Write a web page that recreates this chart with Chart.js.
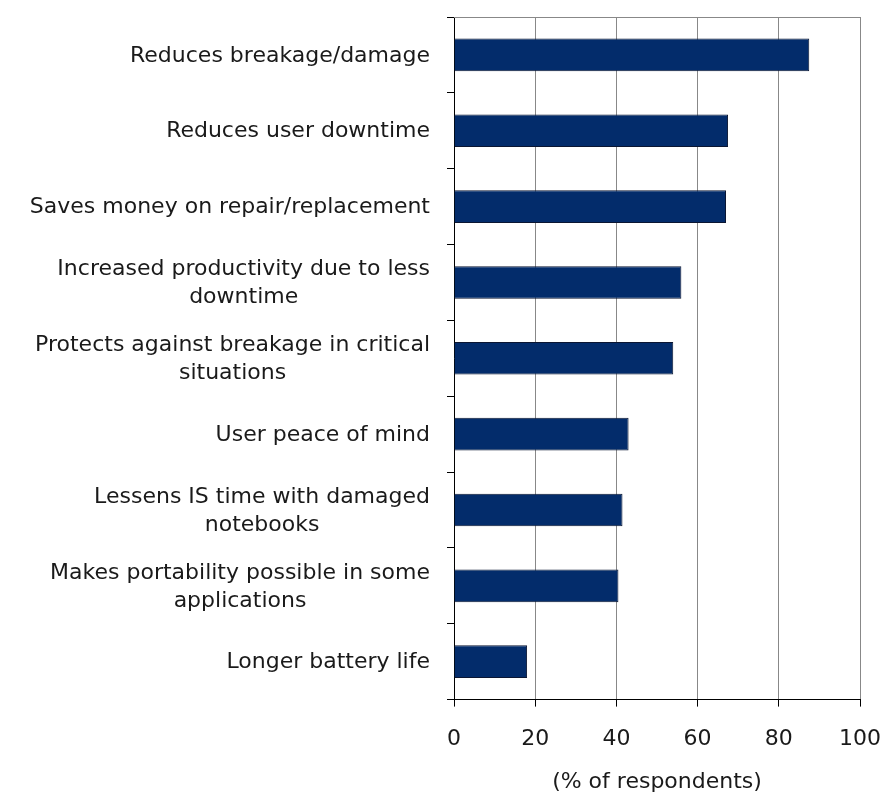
<!DOCTYPE html>
<html>
<head>
<meta charset="utf-8">
<script src="https://cdn.jsdelivr.net/npm/chart.js@4"></script>
<style>
  html, body { margin: 0; padding: 0; background: #ffffff; }
  #wrap { width: 882px; height: 805px; }
</style>
</head>
<body>
<div id="wrap"><canvas id="c" width="882" height="805"></canvas></div>
<script>
const categories = [
  "Reduces breakage/damage",
  "Reduces user downtime",
  "Saves money on repair/replacement",
  ["Increased productivity due to less", "downtime"],
  ["Protects against breakage in critical", "situations"],
  "User peace of mind",
  ["Lessens IS time with damaged", "notebooks"],
  ["Makes portability possible in some", "applications"],
  "Longer battery life"
];
const values = [87.5, 67.5, 67, 56, 54, 43, 41.5, 40.5, 18];
const xTicks = [0, 20, 40, 60, 80, 100];
const xTitle = "(% of respondents)";

const FONT = '"DejaVu Sans", "Liberation Sans", Arial, sans-serif';

const yLabelPlugin = {
  id: 'yLabels',
  afterDraw(chart) {
    const { ctx, chartArea, scales } = chart;
    const y = scales.y;
    ctx.save();
    ctx.font = '22px ' + FONT;
    ctx.fillStyle = '#1a1a1a';
    ctx.textBaseline = 'middle';
    ctx.textAlign = 'center';
    const right = chartArea.left - 24;
    const lh = 28;
    chart.data.labels.forEach((lab, i) => {
      const lines = Array.isArray(lab) ? lab : [lab];
      const w = Math.max(...lines.map(l => ctx.measureText(l).width));
      const cx = right - w / 2;
      const yc = y.getPixelForValue(i) + 1;
      lines.forEach((l, j) => {
        ctx.fillText(l, cx, yc + (j - (lines.length - 1) / 2) * lh);
      });
    });
    ctx.restore();
  }
};

const frameTopPlugin = {
  id: 'frameTop',
  beforeDatasetsDraw(chart) {
    const { ctx, chartArea } = chart;
    ctx.save();
    ctx.strokeStyle = '#888888';
    ctx.lineWidth = 1;
    ctx.beginPath();
    ctx.moveTo(chartArea.left, Math.round(chartArea.top) + 0.5);
    ctx.lineTo(chartArea.right, Math.round(chartArea.top) + 0.5);
    ctx.stroke();
    ctx.restore();
  }
};

new Chart(document.getElementById('c'), {
  type: 'bar',
  data: {
    labels: categories,
    datasets: [{
      data: values,
      backgroundColor: '#032c6b',
      borderColor: '#0b1632',
      borderWidth: 1,
      categoryPercentage: 1.0,
      barPercentage: 0.43
    }]
  },
  options: {
    indexAxis: 'y',
    responsive: false,
    animation: false,
    devicePixelRatio: 1,
    layout: { padding: { left: 0, right: 22, top: 17, bottom: 12 } },
    plugins: {
      legend: { display: false },
      tooltip: { enabled: false },
      title: { display: false }
    },
    scales: {
      x: {
        type: 'linear',
        min: 0,
        max: 100,
        afterBuildTicks(scale) { scale.ticks = xTicks.map(v => ({ value: v })); },
        afterFit(scale) { scale.paddingRight = 22; scale.paddingLeft = 0; },
        ticks: {
          font: { family: FONT, size: 22 },
          color: '#1a1a1a',
          padding: 19
        },
        grid: {
          color: '#888888',
          tickColor: '#000000',
          tickLength: 7,
          lineWidth: 1
        },
        border: { display: true, color: '#000000', width: 1 },
        title: {
          display: true,
          text: xTitle,
          font: { family: FONT, size: 22, lineHeight: 1.0 },
          color: '#1a1a1a',
          padding: { top: 0, bottom: 0 }
        }
      },
      y: {
        type: 'category',
        afterFit(scale) { scale.width = 454; },
        ticks: { display: false },
        grid: {
          offset: true,
          drawOnChartArea: false,
          drawTicks: true,
          tickLength: 7,
          color: '#000000',
          tickColor: '#000000'
        },
        border: { display: true, color: '#000000', width: 1 }
      }
    }
  },
  plugins: [yLabelPlugin, frameTopPlugin]
});
</script>
</body>
</html>
